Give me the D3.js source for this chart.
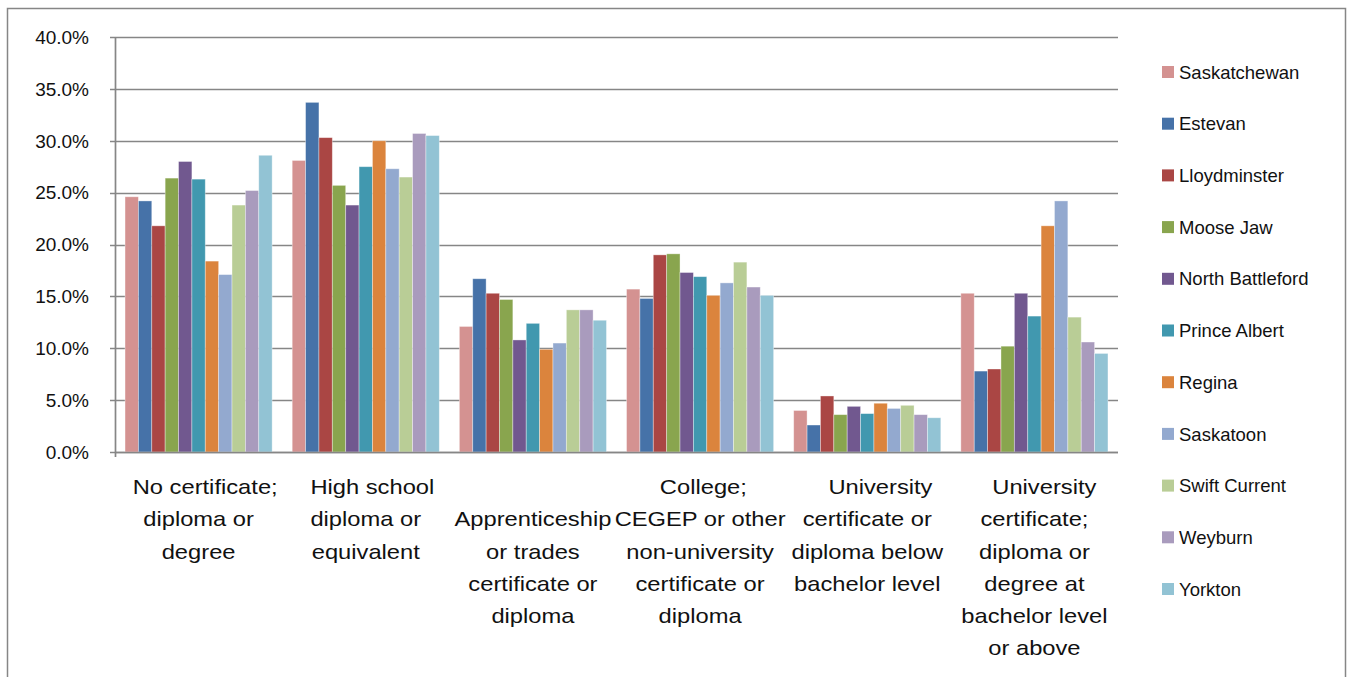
<!DOCTYPE html>
<html>
<head>
<meta charset="utf-8">
<script src="https://cdn.jsdelivr.net/npm/d3@7"></script>
<style>
  body { margin: 0; background: #fff; }
  text { font-family: "Liberation Sans", Arial, sans-serif; fill: #111; }
</style>
</head>
<body>
<div id="chart"></div>
<script>

var width = 1348,
    height = 677;

// categories, one array of lines per label (as wrapped in the original)
var categories = ["nocert", "highschool", "apprentice", "college", "unibelow", "unibachelor"];
var categoryLines = [
    ["\u00a0\u00a0No certificate;", "diploma or", "degree"],
    ["\u00a0\u00a0High school", "diploma or", "equivalent"],
    ["", "Apprenticeship", "or trades", "certificate or", "diploma"],
    ["\u00a0College;", "CEGEP or other", "non-university", "certificate or", "diploma"],
    ["\u00a0\u00a0\u00a0\u00a0University", "certificate or", "diploma below", "bachelor level"],
    ["\u00a0\u00a0\u00a0University", "certificate;", "diploma or", "degree at", "bachelor level", "or above"]
];

var places = ["Saskatchewan", "Estevan", "Lloydminster", "Moose Jaw", "North Battleford",
    "Prince Albert", "Regina", "Saskatoon", "Swift Current", "Weyburn", "Yorkton"];

var colors = ["#d49291", "#4672a8", "#aa4644", "#89a54e", "#71588f", "#4198af",
    "#db843d", "#93a9cf", "#b9cd96", "#a99bbd", "#92c3d4"];

// shares (%) per place, in category order
var saskatchewan    = [24.6, 28.1, 12.1, 15.7, 4.0, 15.3];
var estevan         = [24.2, 33.7, 16.7, 14.8, 2.6, 7.8];
var lloydminster    = [21.8, 30.3, 15.3, 19.0, 5.4, 8.0];
var mooseJaw        = [26.4, 25.7, 14.7, 19.1, 3.6, 10.2];
var northBattleford = [28.0, 23.8, 10.8, 17.3, 4.4, 15.3];
var princeAlbert    = [26.3, 27.5, 12.4, 16.9, 3.7, 13.1];
var regina          = [18.4, 30.0, 9.9, 15.1, 4.7, 21.8];
var saskatoon       = [17.1, 27.3, 10.5, 16.3, 4.2, 24.2];
var swiftCurrent    = [23.8, 26.5, 13.7, 18.3, 4.5, 13.0];
var weyburn         = [25.2, 30.7, 13.7, 15.9, 3.6, 10.6];
var yorkton         = [28.6, 30.5, 12.7, 15.1, 3.3, 9.5];

var yTicks = [0, 5, 10, 15, 20, 25, 30, 35, 40];

var series = [saskatchewan, estevan, lloydminster, mooseJaw, northBattleford,
    princeAlbert, regina, saskatoon, swiftCurrent, weyburn, yorkton];

var plot = { left: 115, right: 1118, top: 37, bottom: 452 };

var svg = d3.select("#chart")
    .append("svg")
    .attr("width", width)
    .attr("height", height);

// outer chart frame
svg.append("rect")
    .attr("x", 7.5)
    .attr("y", 8.5)
    .attr("width", 1338)
    .attr("height", 720)
    .attr("fill", "none")
    .attr("stroke", "#868686")
    .attr("stroke-width", 1.5);

var y = d3.scaleLinear()
    .domain([0, 40])
    .range([plot.bottom, plot.top]);

var x0 = d3.scaleBand()
    .domain(categories)
    .range([plot.left, plot.right])
    .padding(0);

// excel style: gap of 150% of one bar between clusters
var barW = x0.bandwidth() / (places.length + 1.5);
var x1 = d3.scaleBand()
    .domain(places)
    .range([barW * 0.75, x0.bandwidth() - barW * 0.75])
    .padding(0);

// gridlines
svg.append("g")
    .selectAll("line")
    .data(yTicks)
    .enter()
    .append("line")
    .attr("x1", plot.left - 5)
    .attr("x2", plot.right)
    .attr("y1", function (d) { return Math.round(y(d)) + 0.5; })
    .attr("y2", function (d) { return Math.round(y(d)) + 0.5; })
    .attr("stroke", "#868686")
    .attr("stroke-width", 1.7);

// y axis line
svg.append("line")
    .attr("x1", plot.left + 0.5)
    .attr("x2", plot.left + 0.5)
    .attr("y1", plot.top)
    .attr("y2", plot.bottom + 5)
    .attr("stroke", "#868686")
    .attr("stroke-width", 1.7);

// y tick labels
svg.append("g")
    .selectAll("text")
    .data(yTicks)
    .enter()
    .append("text")
    .attr("x", 89)
    .attr("y", function (d) { return y(d); })
    .attr("dy", "0.36em")
    .attr("text-anchor", "end")
    .style("font-size", "19px")
    .text(function (d) { return d3.format(".1f")(d) + "%"; });

// bars
var groups = svg.append("g")
    .selectAll("g")
    .data(categories)
    .enter()
    .append("g")
    .attr("transform", function (d) { return "translate(" + x0(d) + ",0)"; });

groups.selectAll("rect")
    .data(function (d, i) {
        return places.map(function (p, j) { return { place: p, idx: j, value: series[j][i] }; });
    })
    .enter()
    .append("rect")
    .attr("x", function (d) { return x1(d.place); })
    .attr("y", function (d) { return y(d.value); })
    .attr("width", x1.bandwidth())
    .attr("height", function (d) { return y(0) - y(d.value); })
    .attr("fill", function (d) { return colors[d.idx]; })
    .attr("stroke", "#ffffff")
    .attr("stroke-opacity", 0.45)
    .attr("stroke-width", 0.8);

// baseline on top of bars
svg.append("line")
    .attr("x1", plot.left)
    .attr("x2", plot.right)
    .attr("y1", Math.round(y(0)) + 0.5)
    .attr("y2", Math.round(y(0)) + 0.5)
    .attr("stroke", "#868686")
    .attr("stroke-width", 1.7);

// category labels (wrapped lines, slightly wide like the original)
var labels = svg.append("g")
    .selectAll("g")
    .data(categories)
    .enter()
    .append("g")
    .attr("transform", function (d) {
        return "translate(" + (x0(d) + x0.bandwidth() / 2) + ",494) scale(1.13,1)";
    });

labels.selectAll("text")
    .data(function (d, i) { return categoryLines[i]; })
    .enter()
    .append("text")
    .attr("x", 0)
    .attr("y", function (d, i) { return i * 32.3; })
    .attr("text-anchor", "middle")
    .style("font-size", "21px")
    .style("white-space", "pre")
    .text(function (d) { return d; });

// legend
var legend = svg.append("g")
    .selectAll("g")
    .data(places)
    .enter()
    .append("g")
    .attr("transform", function (d, i) { return "translate(1162," + (72 + i * 51.7) + ")"; });

legend.append("rect")
    .attr("x", 0)
    .attr("y", -6)
    .attr("width", 12)
    .attr("height", 12)
    .attr("fill", function (d, i) { return colors[i]; });

legend.append("text")
    .attr("x", 17)
    .attr("y", 0)
    .attr("dy", "0.36em")
    .style("font-size", "18.5px")
    .text(function (d) { return d; });

</script>
</body>
</html>
